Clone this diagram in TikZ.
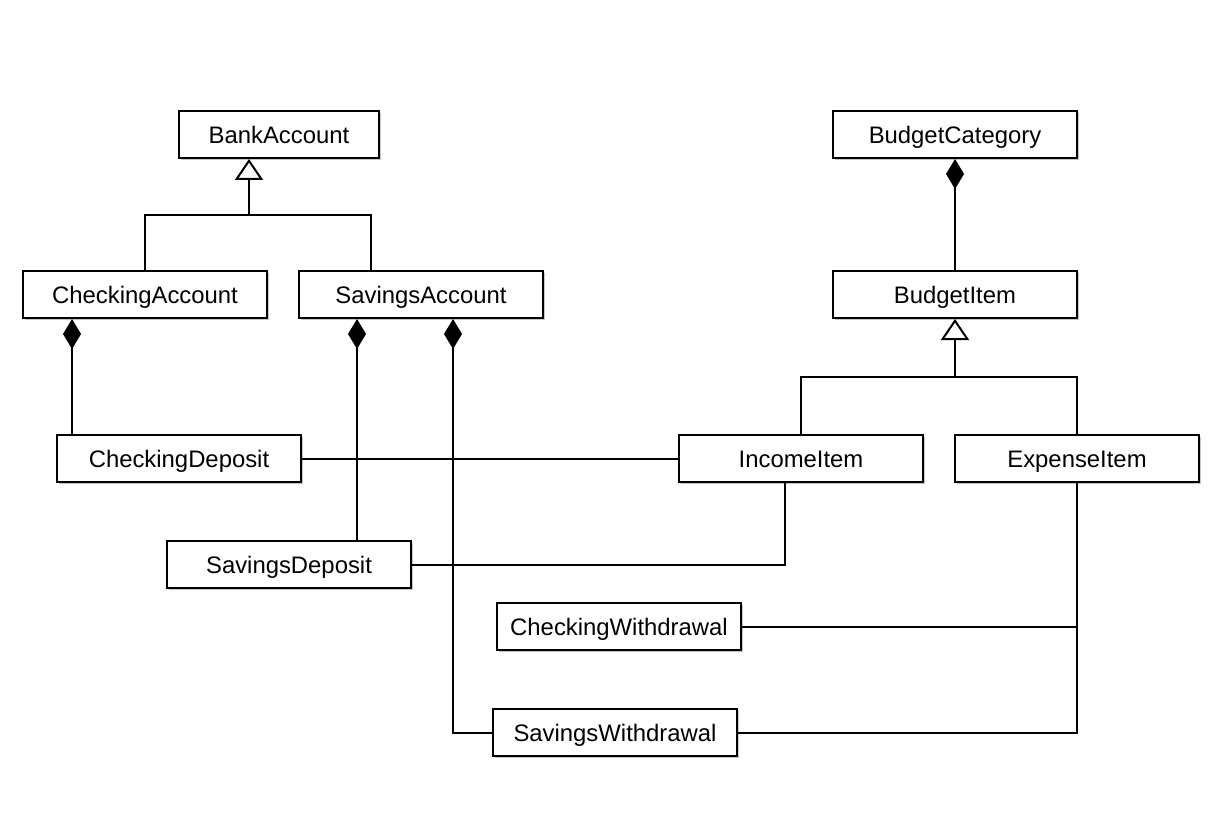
\documentclass[tikz,border=0pt]{standalone}
\usepackage{fontspec}
\setmainfont{Liberation Sans}
\usetikzlibrary{arrows.meta,shadows}
\begin{document}
\begin{tikzpicture}[x=0.75pt,y=-0.75pt,
  cls/.style={draw, line width=1.5pt, fill=white, minimum width=183pt, minimum height=35.25pt, inner sep=0pt,
    font=\fontsize{17.9}{20}\selectfont, text height=12.8pt, text depth=0pt,
    drop shadow={shadow xshift=1.5pt, shadow yshift=-1.5pt, fill=black, opacity=0.22}},
  conn/.style={line width=1.5pt},
  inherit/.style={conn, -{Triangle[open, length=15.75pt, width=21pt]}},
  compose/.style={conn, {Diamond[length=22.5pt, width=13.5pt]}-}]
\useasboundingbox (0,0) rectangle (1222,838);
\fill[white] (0,0) rectangle (1222,838);
% classes
\node[cls, minimum width=150pt] (BA) at (279,134.5) {BankAccount};
\node[cls] (BC) at (955,134.5) {BudgetCategory};
\node[cls] (CA) at (145,294.5) {CheckingAccount};
\node[cls] (SA) at (421,294.5) {SavingsAccount};
\node[cls] (BI) at (955,294.5) {BudgetItem};
\node[cls] (CD) at (179,458.5) {CheckingDeposit};
\node[cls] (II) at (801,458.5) {IncomeItem};
\node[cls] (EI) at (1077,458.5) {ExpenseItem};
\node[cls] (SD) at (289,564.5) {SavingsDeposit};
\node[cls] (CW) at (619,626.5) {CheckingWithdrawal};
\node[cls] (SW) at (615,732.5) {SavingsWithdrawal};
% helper coordinates
\coordinate (bj) at (249,215);
\coordinate (bj2) at (955,377);
\coordinate (saIn) at (371,0);
\coordinate (c1) at (72,0);
\coordinate (c2) at (357,0);
\coordinate (c3) at (453,0);
\coordinate (c4) at (785,0);
% inheritance
\draw[inherit] (CA.north) |- (bj) -- (BA.south -| bj);
\draw[conn] (SA.north -| saIn) |- (bj);
\draw[inherit] (II.north) |- (bj2) -- (BI.south);
\draw[conn] (EI.north) |- (bj2);
% composition
\draw[compose] (CA.south -| c1) -- (CD.north -| c1);
\draw[compose] (SA.south -| c2) -- (SD.north -| c2);
\draw[compose] (SA.south -| c3) |- (SW.west);
\draw[compose] (BC.south) -- (BI.north);
% associations
\draw[conn] (CD.east) -- (II.west);
\draw[conn] (SD.east) -| (II.south -| c4);
\draw[conn] (EI.south) |- (SW.east);
\draw[conn] (CW.east) -- (CW.east -| EI.south);
\end{tikzpicture}
\end{document}
